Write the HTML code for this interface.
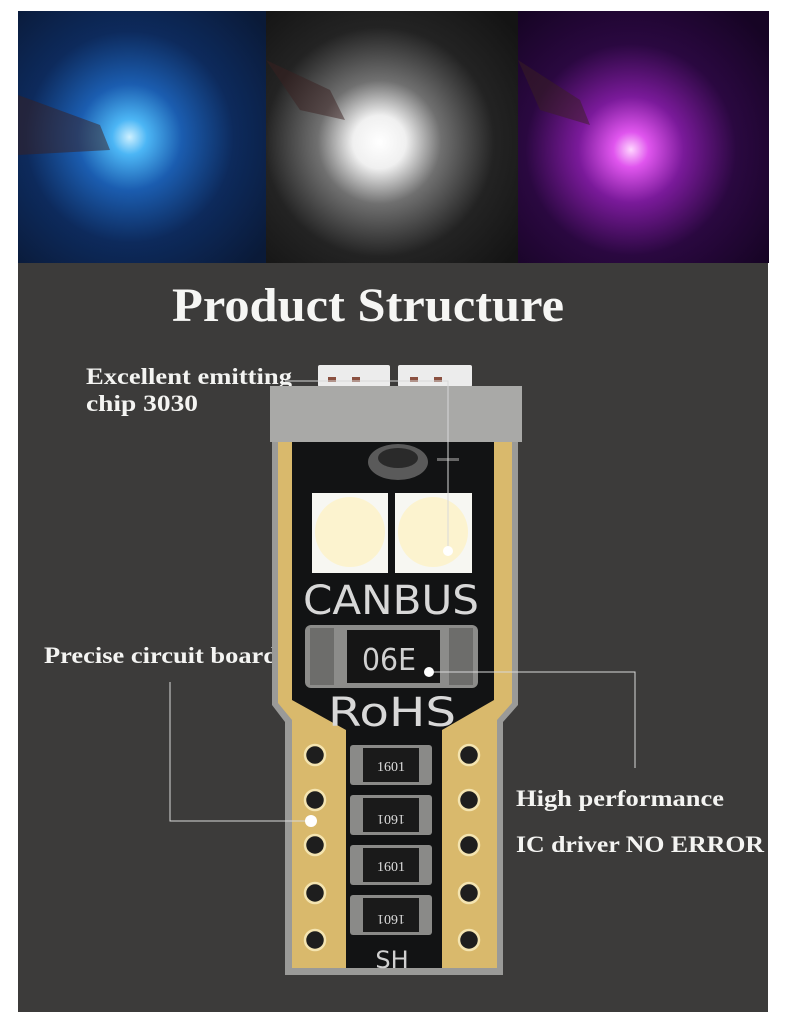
<!DOCTYPE html>
<html><head><meta charset="utf-8"><style>
html,body{margin:0;padding:0;background:#fff;}
body{width:788px;height:1018px;overflow:hidden;position:relative;}
svg{position:absolute;left:0;top:0;}
</style></head><body>
<svg width="788" height="1018" viewBox="0 0 788 1018" xmlns="http://www.w3.org/2000/svg">
<defs>
<radialGradient id="gb" cx="0.45" cy="0.5" r="0.7"><stop offset="0" stop-color="#cdf0ff"/><stop offset="0.1" stop-color="#4cb6f5"/><stop offset="0.3" stop-color="#1b5db0"/><stop offset="0.6" stop-color="#0d2a5c"/><stop offset="1" stop-color="#0a1a38"/></radialGradient>
<radialGradient id="gw" cx="0.45" cy="0.52" r="0.7"><stop offset="0" stop-color="#ffffff"/><stop offset="0.15" stop-color="#f0f0f0"/><stop offset="0.35" stop-color="#707070"/><stop offset="0.65" stop-color="#232323"/><stop offset="1" stop-color="#141414"/></radialGradient>
<radialGradient id="gp" cx="0.45" cy="0.55" r="0.7"><stop offset="0" stop-color="#ffd6ff"/><stop offset="0.1" stop-color="#e055ee"/><stop offset="0.3" stop-color="#7a1a9a"/><stop offset="0.6" stop-color="#2a0840"/><stop offset="1" stop-color="#160424"/></radialGradient>
</defs>
<rect x="18" y="11" width="248" height="252" fill="url(#gb)"/>
<rect x="266" y="11" width="252" height="252" fill="url(#gw)"/>
<rect x="518" y="11" width="251" height="252" fill="url(#gp)"/>
<g opacity="0.5" fill="#3a2020">
<polygon points="18,95 100,125 110,150 18,155"/>
<polygon points="266,60 330,90 345,120 300,110"/>
<polygon points="518,60 580,100 590,125 540,110"/>
</g>
<rect x="18" y="263" width="750" height="749" fill="#3c3b3a"/>
<text x="368" y="321" font-family="Liberation Serif, serif" font-weight="bold" font-size="48" fill="#f6f6f4" text-anchor="middle" textLength="392" lengthAdjust="spacingAndGlyphs">Product Structure</text>
<g font-family="Liberation Serif, serif" font-weight="bold" fill="#f4f4f2">
<text x="86" y="384" font-size="23" textLength="206" lengthAdjust="spacingAndGlyphs">Excellent emitting</text>
<text x="86" y="411" font-size="23" textLength="112" lengthAdjust="spacingAndGlyphs">chip 3030</text>
<text x="44" y="663" font-size="23" textLength="234" lengthAdjust="spacingAndGlyphs">Precise circuit board</text>
<text x="516" y="806" font-size="23" textLength="208" lengthAdjust="spacingAndGlyphs">High performance</text>
<text x="516" y="852" font-size="23" textLength="248" lengthAdjust="spacingAndGlyphs">IC driver NO ERROR</text>
</g>
<rect x="318" y="365" width="72" height="22" rx="2" fill="#ececec"/>
<rect x="398" y="365" width="74" height="22" rx="2" fill="#ececec"/>
<g fill="#8a5040"><rect x="328" y="377" width="8" height="5"/><rect x="352" y="377" width="8" height="5"/><rect x="410" y="377" width="8" height="5"/><rect x="434" y="377" width="8" height="5"/></g>
<path d="M272,440 L518,440 L518,705 L503,722 L503,975 L285,975 L285,722 L272,705 Z" fill="#9a9a98"/>
<path d="M278,440 L512,440 L512,703 L497,720 L497,968 L292,968 L292,720 L278,703 Z" fill="#d9b96c"/>
<path d="M292,440 L494,440 L494,700 L442,730 L442,968 L346,968 L346,730 L292,700 Z" fill="#121314"/>
<rect x="270" y="386" width="252" height="56" fill="#a9a9a7"/>
<ellipse cx="398" cy="462" rx="30" ry="18" fill="#5a5a5a"/>
<ellipse cx="398" cy="458" rx="20" ry="10" fill="#2a2a2a"/>
<rect x="437" y="458" width="22" height="3" fill="#666"/>
<rect x="312" y="493" width="76" height="80" fill="#f7f7f2"/>
<rect x="395" y="493" width="77" height="80" fill="#f7f7f2"/>
<circle cx="350" cy="532" r="35" fill="#fcf3cf"/>
<circle cx="433" cy="532" r="35" fill="#fcf3cf"/>
<text x="391" y="614" font-family="DejaVu Sans, sans-serif" font-size="40" fill="#d8d8d8" text-anchor="middle" textLength="176" lengthAdjust="spacingAndGlyphs">CANBUS</text>
<rect x="305" y="625" width="173" height="63" rx="6" fill="#8c8c8a"/>
<rect x="310" y="628" width="24" height="57" fill="#6d6d6b"/>
<rect x="449" y="628" width="24" height="57" fill="#6d6d6b"/>
<rect x="347" y="630" width="93" height="53" fill="#151515"/>
<text x="389" y="670" font-family="DejaVu Sans, sans-serif" font-size="30" fill="#d0d0d0" text-anchor="middle" textLength="54" lengthAdjust="spacingAndGlyphs">06E</text>
<text x="392" y="726" font-family="DejaVu Sans, sans-serif" font-size="40" fill="#d8d8d8" text-anchor="middle" textLength="128" lengthAdjust="spacingAndGlyphs">RoHS</text>
<g>
<rect x="350" y="745" width="82" height="40" rx="3" fill="#8a8a88"/><rect x="363" y="748" width="56" height="34" fill="#1a1a1a"/>
<rect x="350" y="795" width="82" height="40" rx="3" fill="#8a8a88"/><rect x="363" y="798" width="56" height="34" fill="#1a1a1a"/>
<rect x="350" y="845" width="82" height="40" rx="3" fill="#8a8a88"/><rect x="363" y="848" width="56" height="34" fill="#1a1a1a"/>
<rect x="350" y="895" width="82" height="40" rx="3" fill="#8a8a88"/><rect x="363" y="898" width="56" height="34" fill="#1a1a1a"/>
</g>
<g font-family="Liberation Serif, serif" font-size="14" fill="#ddd" text-anchor="middle">
<text x="391" y="771">1601</text>
<text x="391" y="871">1601</text>
<text x="391" y="817" transform="rotate(180 391 816)">1601</text>
<text x="391" y="917" transform="rotate(180 391 916)">1601</text>
</g>
<text x="392" y="968" font-family="DejaVu Sans, sans-serif" font-size="24" fill="#d0d0d0" text-anchor="middle">SH</text>
<g fill="#1e1e1e" stroke="#f4e4b0" stroke-width="2.5">
<circle cx="315" cy="755" r="10"/><circle cx="315" cy="800" r="10"/><circle cx="315" cy="845" r="10"/><circle cx="315" cy="893" r="10"/><circle cx="315" cy="940" r="10"/>
<circle cx="469" cy="755" r="10"/><circle cx="469" cy="800" r="10"/><circle cx="469" cy="845" r="10"/><circle cx="469" cy="893" r="10"/><circle cx="469" cy="940" r="10"/>
</g>
<g stroke="#d8d8d8" stroke-width="1" fill="none">
<polyline points="285,381 448,381 448,551"/>
<polyline points="170,682 170,821 311,821"/>
<polyline points="429,672 635,672 635,768"/>
</g>
<g fill="#ffffff">
<circle cx="448" cy="551" r="5"/><circle cx="311" cy="821" r="6"/><circle cx="429" cy="672" r="5"/>
</g>
</svg>
</body></html>
